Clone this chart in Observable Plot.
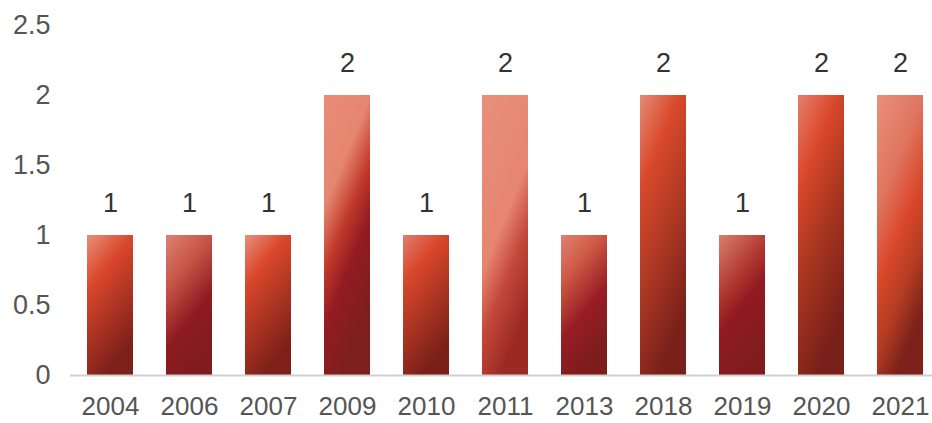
<!DOCTYPE html>
<html><head><meta charset="utf-8">
<script src="https://cdn.jsdelivr.net/npm/d3@7"></script>
<script src="https://cdn.jsdelivr.net/npm/@observablehq/plot@0.6"></script>
<style>body{margin:0;background:#fff;}</style>
</head><body><div id="chart"></div>
<script>
const years = ["2004","2006","2007","2009","2010","2011","2013","2018","2019","2020","2021"];
const counts = [1,1,1,2,1,2,1,2,1,2,2];
const yTicks = [0,0.5,1,1.5,2,2.5];

// bar gradient styles (one per bar)
const gradients = [
  [[0,"#e8907a"],[0.35,"#d9462b"],[1,"#7d1f1a"]],
  [[0,"#dc8272"],[0.35,"#c65445"],[0.7,"#8f1a22"],[1,"#801c1e"]],
  [[0,"#e6907c"],[0.32,"#d9472a"],[1,"#7d2019"]],
  [[0,"#e88c77"],[0.35,"#e58670"],[0.55,"#c0392b"],[0.72,"#931b22"],[1,"#7d1f1d"]],
  [[0,"#e08070"],[0.3,"#d9472a"],[1,"#7a2019"]],
  [[0,"#e8907a"],[0.55,"#e68571"],[0.75,"#c4483a"],[1,"#9c2a24"]],
  [[0,"#e08272"],[0.3,"#cf5a45"],[0.65,"#981d24"],[1,"#7d1c1d"]],
  [[0,"#e68a75"],[0.3,"#d9482b"],[0.6,"#b13a24"],[1,"#7a201a"]],
  [[0,"#d9806f"],[0.4,"#b0372f"],[0.6,"#921a22"],[1,"#801c1e"]],
  [[0,"#e5806c"],[0.3,"#d9472a"],[0.6,"#a8361f"],[1,"#7a201a"]],
  [[0,"#e8907a"],[0.35,"#e07560"],[0.6,"#d9472a"],[0.8,"#b33c22"],[1,"#7d221b"]]
];

const data = years.map((year, i) => ({year, count: counts[i], id: "barGrad" + i}));

const chart = Plot.plot({
  width: 932, height: 423,
  marginLeft: 70, marginRight: 0, marginTop: 25, marginBottom: 48,
  style: {fontFamily: "'Liberation Sans', Arial, sans-serif", fontSize: "26px", color: "#555", background: "#fff"},
  x: {domain: years, range: [67.5, 942.5], paddingInner: 0.42, paddingOuter: 0.21, axis: null},
  y: {domain: [0, 2.5], axis: null},
  color: {type: "identity"},
  marks: [
    Plot.barY(data, {x: "year", y: "count", fill: d => `url(#${d.id})`}),
    Plot.ruleY([0], {stroke: "#d0d0d0", strokeWidth: 2}),
    Plot.axisY(yTicks, {tickSize: 0, tickPadding: 20, tickFormat: d => String(d), label: null, fill: "#555", fontSize: 27}),
    Plot.axisX(years, {tickSize: 0, tickPadding: 21, label: null, fill: "#555", fontSize: 26}),
    Plot.text(data, {x: "year", y: "count", text: d => String(d.count), dy: -32, fill: "#333", fontSize: 27})
  ]
});

document.getElementById("chart").appendChild(chart);

const svg = d3.select(chart.tagName.toLowerCase() === "svg" ? chart : chart.querySelector("svg"));
const defs = svg.insert("defs", ":first-child");
data.forEach((d, i) => {
  const g = defs.append("linearGradient").attr("id", d.id)
    .attr("x1", 0).attr("y1", 0).attr("x2", 0.4).attr("y2", 1);
  gradients[i].forEach(([o, c]) => g.append("stop").attr("offset", o).attr("stop-color", c));
});
</script>
</body></html>
